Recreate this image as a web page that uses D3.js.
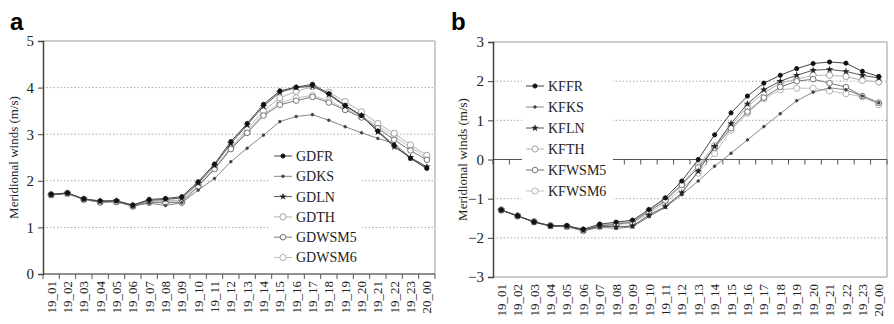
<!DOCTYPE html>
<html>
<head>
<meta charset="utf-8">
<script src="https://cdn.jsdelivr.net/npm/d3@7"></script>
<style>
  body { margin: 0; background: #fff; }
  svg { display: block; }
</style>
</head>
<body>
<svg id="chart" width="894" height="324"></svg>
<script>
// Getting the data
var times = ["19_01", "19_02", "19_03", "19_04", "19_05", "19_06", "19_07", "19_08",
  "19_09", "19_10", "19_11", "19_12", "19_13", "19_14", "19_15", "19_16", "19_17",
  "19_18", "19_19", "19_20", "19_21", "19_22", "19_23", "20_00"];

// panel a (GD runs)
var namesA = ["GDFR", "GDKS", "GDLN", "GDTH", "GDWSM5", "GDWSM6"];
var gdfr = [1.71, 1.74, 1.61, 1.57, 1.57, 1.48, 1.60, 1.62, 1.66, 1.98, 2.36, 2.84, 3.23, 3.64, 3.93, 4.01, 4.07, 3.87, 3.62, 3.40, 3.07, 2.76, 2.48, 2.27];
var gdks = [1.70, 1.74, 1.60, 1.55, 1.56, 1.46, 1.52, 1.47, 1.53, 1.80, 2.05, 2.41, 2.70, 2.98, 3.27, 3.38, 3.42, 3.30, 3.16, 3.03, 2.91, 2.80, 2.50, 2.25];
var gdln = [1.70, 1.73, 1.61, 1.56, 1.57, 1.47, 1.58, 1.60, 1.63, 1.95, 2.33, 2.80, 3.20, 3.60, 3.90, 4.00, 4.03, 3.85, 3.60, 3.40, 3.05, 2.73, 2.50, 2.30];
var gdth = [1.70, 1.73, 1.60, 1.54, 1.55, 1.46, 1.55, 1.58, 1.58, 1.92, 2.27, 2.72, 3.10, 3.50, 3.78, 3.92, 4.02, 3.90, 3.70, 3.48, 3.23, 3.02, 2.77, 2.55];
var gdwsm5 = [1.70, 1.73, 1.60, 1.54, 1.55, 1.46, 1.53, 1.53, 1.53, 1.88, 2.25, 2.68, 3.03, 3.40, 3.63, 3.72, 3.80, 3.68, 3.52, 3.36, 3.13, 2.88, 2.65, 2.45];
var gdwsm6 = [1.70, 1.73, 1.60, 1.55, 1.55, 1.45, 1.55, 1.55, 1.55, 1.90, 2.27, 2.70, 3.05, 3.43, 3.67, 3.78, 3.83, 3.72, 3.55, 3.38, 3.18, 2.95, 2.72, 2.50];

// panel b (KF runs)
var namesB = ["KFFR", "KFKS", "KFLN", "KFTH", "KFWSM5", "KFWSM6"];
var kffr = [-1.29, -1.44, -1.59, -1.69, -1.69, -1.78, -1.65, -1.60, -1.55, -1.28, -0.98, -0.55, 0.00, 0.63, 1.19, 1.62, 1.95, 2.15, 2.32, 2.45, 2.49, 2.46, 2.25, 2.12];
var kfks = [-1.29, -1.44, -1.60, -1.70, -1.72, -1.82, -1.73, -1.76, -1.72, -1.46, -1.22, -0.90, -0.55, -0.17, 0.16, 0.50, 0.84, 1.17, 1.50, 1.72, 1.83, 1.78, 1.62, 1.45];
var kfln = [-1.29, -1.44, -1.60, -1.70, -1.70, -1.80, -1.70, -1.72, -1.70, -1.42, -1.20, -0.85, -0.30, 0.33, 0.92, 1.42, 1.78, 2.00, 2.15, 2.28, 2.30, 2.25, 2.15, 2.08];
var kfth = [-1.29, -1.44, -1.59, -1.69, -1.71, -1.80, -1.68, -1.63, -1.58, -1.30, -1.02, -0.62, -0.15, 0.35, 0.85, 1.35, 1.70, 1.95, 2.05, 2.15, 2.15, 2.12, 2.02, 1.98];
var kfwsm5 = [-1.29, -1.44, -1.59, -1.69, -1.71, -1.81, -1.70, -1.65, -1.60, -1.33, -1.05, -0.65, -0.20, 0.30, 0.80, 1.22, 1.58, 1.85, 2.00, 2.05, 1.95, 1.85, 1.62, 1.45];
var kfwsm6 = [-1.29, -1.44, -1.59, -1.69, -1.71, -1.82, -1.72, -1.67, -1.62, -1.38, -1.10, -0.75, -0.35, 0.15, 0.75, 1.18, 1.55, 1.78, 1.82, 1.82, 1.75, 1.68, 1.60, 1.40];

var ticksA = [0, 1, 2, 3, 4, 5];
var ticksB = [-3, -2, -1, 0, 1, 2, 3];

// line / marker style per run type (FR, KS, LN, TH, WSM5, WSM6)
var styles = [
  { line: "#444", sym: "circle", r: 2.1, fill: "#111", stroke: "#111" },
  { line: "#888", sym: "circle", r: 1.3, fill: "#444", stroke: "#444" },
  { line: "#555", sym: "star", r: 2.4, fill: "#222", stroke: "#222" },
  { line: "#b5b5b5", sym: "circle", r: 3.1, fill: "#fff", stroke: "#999" },
  { line: "#777", sym: "circle", r: 2.8, fill: "#fff", stroke: "#666" },
  { line: "#c0c0c0", sym: "circle", r: 3.1, fill: "#fff", stroke: "#aaa" }
];
// open markers first so the dark ones stay visible
var drawOrder = [5, 3, 4, 1, 2, 0];

var SERIF = "Liberation Serif, DejaVu Serif, serif";
var svg = d3.select("#chart");

function marker(g, s, cx, cy) {
  if (s.sym === "star") {
    g.append("path")
      .attr("d", d3.symbol().type(d3.symbolStar).size(s.r * s.r * 3)())
      .attr("transform", "translate(" + cx + "," + cy + ")")
      .attr("fill", s.fill);
  } else {
    g.append("circle")
      .attr("cx", cx).attr("cy", cy).attr("r", s.r)
      .attr("fill", s.fill).attr("stroke", s.stroke).attr("stroke-width", 0.9);
  }
}

function drawPanel(p) {
  var x = d3.scaleBand().domain(times).range([p.left, p.right]);
  var y = d3.scaleLinear().domain(p.domain).range([p.bottom, p.top]);
  var g = svg.append("g");

  // panel letter
  g.append("text")
    .attr("x", p.letterX).attr("y", 30)
    .attr("font-family", "Liberation Sans, Arial, sans-serif")
    .attr("font-weight", "bold")
    .attr("font-size", 24)
    .text(p.letter);

  // dotted grid lines
  g.selectAll(".grid")
    .data(p.grid)
    .enter().append("line")
    .attr("x1", p.left).attr("x2", p.right)
    .attr("y1", function (d) { return y(d); })
    .attr("y2", function (d) { return y(d); })
    .attr("stroke", "#aaa").attr("stroke-width", 1)
    .attr("stroke-dasharray", "1.5,2");

  // frame (top, right, bottom)
  g.append("path")
    .attr("d", "M" + p.left + "," + p.top + "H" + p.right + "V" + p.bottom + "H" + p.left)
    .attr("fill", "none").attr("stroke", "#999").attr("stroke-width", 1);

  // x axis line and ticks at band edges
  var y0 = y(p.axisAt);
  var edges = times.map(function (d) { return x(d); }).concat([p.right]);
  g.append("line")
    .attr("x1", p.left).attr("x2", p.right).attr("y1", y0).attr("y2", y0)
    .attr("stroke", "#555").attr("stroke-width", 1.2);
  g.selectAll(".xt")
    .data(edges)
    .enter().append("line")
    .attr("x1", function (d) { return d; }).attr("x2", function (d) { return d; })
    .attr("y1", y0).attr("y2", y0 + 5)
    .attr("stroke", "#555").attr("stroke-width", 1);

  // x labels (always under the plot)
  g.selectAll(".xl")
    .data(times)
    .enter().append("text")
    .attr("transform", function (d) {
      return "translate(" + (x(d) + x.bandwidth() / 2) + "," + (p.bottom + 7) + ") rotate(-90)";
    })
    .attr("dy", "0.35em")
    .attr("text-anchor", "end")
    .attr("font-family", SERIF)
    .attr("font-size", 13)
    .attr("fill", "#222")
    .text(function (d) { return d; });

  // y axis
  var ya = g.append("g")
    .attr("transform", "translate(" + p.left + ",0)")
    .call(d3.axisLeft(y).tickValues(p.ticks).tickFormat(d3.format("d")).tickSize(5).tickPadding(4))
    .attr("font-family", SERIF)
    .attr("font-size", 15);
  ya.select(".domain").attr("stroke", "#444").attr("stroke-width", 1.5);
  ya.selectAll(".tick line").attr("stroke", "#444");
  ya.selectAll("text").attr("fill", "#222");

  // y axis label
  g.append("text")
    .attr("transform", "translate(" + p.titleX + "," + ((p.top + p.bottom) / 2) + ") rotate(-90)")
    .attr("dy", "0.35em")
    .attr("text-anchor", "middle")
    .attr("font-family", SERIF)
    .attr("font-size", 13)
    .attr("fill", "#222")
    .text("Meridional winds (m/s)");

  // legend background covers the grid
  g.append("rect")
    .attr("x", p.legend.x0).attr("y", p.legend.y0)
    .attr("width", p.legend.x1 - p.legend.x0).attr("height", p.legend.y1 - p.legend.y0)
    .attr("fill", "#fff");

  // series
  var line = d3.line()
    .x(function (d, i) { return x(times[i]) + x.bandwidth() / 2; })
    .y(function (d) { return y(d); });

  drawOrder.forEach(function (k) {
    var s = styles[k];
    var vals = p.series[k];
    g.append("path")
      .datum(vals)
      .attr("d", line)
      .attr("fill", "none")
      .attr("stroke", s.line)
      .attr("stroke-width", 1);
    var mg = g.append("g");
    vals.forEach(function (v, i) {
      marker(mg, s, x(times[i]) + x.bandwidth() / 2, y(v));
    });
  });

  // legend entries
  p.names.forEach(function (name, k) {
    var s = styles[k];
    var ly = p.legend.rowY + k * p.legend.step;
    var lx = p.legend.lineX;
    g.append("line")
      .attr("x1", lx).attr("x2", lx + 18).attr("y1", ly).attr("y2", ly)
      .attr("stroke", s.line).attr("stroke-width", 1);
    marker(g, s, lx + 9, ly);
    g.append("text")
      .attr("x", lx + 22).attr("y", ly)
      .attr("dy", "0.35em")
      .attr("font-family", SERIF)
      .attr("font-size", 14)
      .attr("fill", "#222")
      .text(name);
  });
}

drawPanel({
  letter: "a", letterX: 10,
  left: 43, right: 435, top: 41, bottom: 274,
  domain: [0, 5], ticks: ticksA, grid: [1, 2, 3, 4], axisAt: 0,
  titleX: 13,
  names: namesA,
  series: [gdfr, gdks, gdln, gdth, gdwsm5, gdwsm6],
  legend: { x0: 270, x1: 362, y0: 144, y1: 268, lineX: 274, rowY: 156, step: 20.3 }
});

drawPanel({
  letter: "b", letterX: 451,
  left: 493, right: 887, top: 42, bottom: 277,
  domain: [-3, 3], ticks: ticksB, grid: [-2, -1, 1, 2], axisAt: 0,
  titleX: 462,
  names: namesB,
  series: [kffr, kfks, kfln, kfth, kfwsm5, kfwsm6],
  legend: { x0: 522, x1: 613, y0: 72, y1: 202, lineX: 526, rowY: 86, step: 21 }
});
</script>
</body>
</html>
